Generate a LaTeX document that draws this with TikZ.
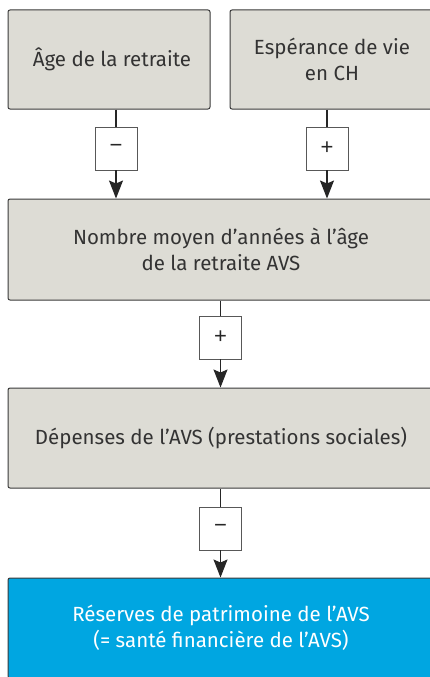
\documentclass[tikz,border=0pt]{standalone}
\usepackage{fontspec}
\setmainfont{Fira Sans}
\newfontfamily\signfont{Liberation Sans}
\usetikzlibrary{arrows.meta}
\definecolor{boxgray}{HTML}{DDDCD5}
\definecolor{avsblue}{HTML}{00A6E1}
\definecolor{edgegray}{HTML}{3A3A3A}
\begin{document}
\begin{tikzpicture}[x=1pt,y=-1pt,
  box/.style={draw=edgegray,line width=1pt,rounded corners=2pt,fill=boxgray,align=center,inner sep=0pt,text=black!80,font=\fontsize{20.5}{26}\selectfont},
  sign/.style={draw=edgegray!85,line width=0.8pt,fill=white,minimum width=42pt,minimum height=43pt,inner sep=0pt,text=black!85,font=\signfont\fontsize{22}{24}\selectfont},
  link/.style={line width=1.1pt,draw=black!85},
  arrow/.style={link,-{Stealth[length=18pt,width=14pt,inset=3pt]}}]
\useasboundingbox (0,0) rectangle (430,677);
\clip (0,0) rectangle (430,677);
\fill[white] (0,0) rectangle (430,677);

\node[box,minimum width=202pt,minimum height=99pt] (age) at (109,59.5) {\hspace*{6pt}Âge de la retraite};
\node[box,minimum width=204pt,minimum height=99pt] (vie) at (332,59.5) {Espérance de vie\\en CH};
\node[box,minimum width=426pt,minimum height=101pt] (annees) at (221,249.5) {Nombre moyen d’années à l’âge\\de la retraite AVS};
\node[box,minimum width=426pt,minimum height=100pt] (depenses) at (221,438) {Dépenses de l’AVS (prestations sociales)};
\node[box,fill=avsblue,text=white,minimum width=426pt,minimum height=100pt] (reserves) at (221,628) {Réserves de patrimoine de l’AVS\\(= santé financière de l’AVS)};

\node[sign] (s1) at (116,148.5) {−};
\node[sign] (s2) at (327,148.5) {+};
\node[sign] (s3) at (220.5,337.5) {+};
\node[sign] (s4) at (220.5,528.5) {−};

\draw[link] (s1 |- age.south) -- (s1);
\draw[arrow] (s1) -- (s1 |- annees.north);
\draw[link] (s2 |- vie.south) -- (s2);
\draw[arrow] (s2) -- (s2 |- annees.north);
\draw[link] (s3 |- annees.south) -- (s3);
\draw[arrow] (s3) -- (s3 |- depenses.north);
\draw[link] (s4 |- depenses.south) -- (s4);
\draw[arrow] (s4) -- (s4 |- reserves.north);
\end{tikzpicture}
\end{document}
